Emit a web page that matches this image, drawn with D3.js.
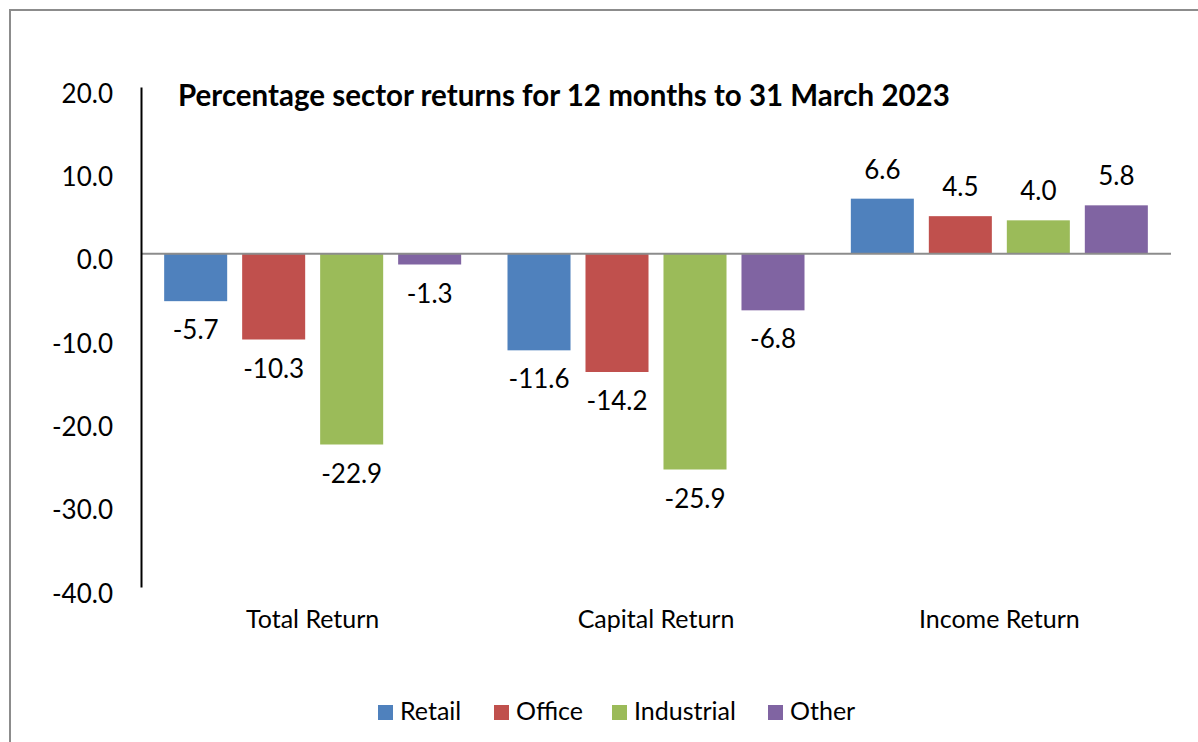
<!DOCTYPE html>
<html>
<head>
<meta charset="utf-8">
<script src="https://d3js.org/d3.v7.min.js"></script>
<style>
body { margin: 0; background: #fff; }
text { font-family: Lato, "Open Sans", sans-serif; fill: #000; }
</style>
</head>
<body>
<svg id="chart" width="1198" height="742"></svg>
<script>
var categories = ["Total Return", "Capital Return", "Income Return"];
var sectors = ["Retail", "Office", "Industrial", "Other"];
var colors = ["#4f81bd", "#c0504d", "#9bbb59", "#8064a2"];
var retail = [-5.7, -11.6, 6.6];
var office = [-10.3, -14.2, 4.5];
var industrial = [-22.9, -25.9, 4.0];
var other = [-1.3, -6.8, 5.8];
var yTicks = [20, 10, 0, -10, -20, -30, -40];

var seriesValues = [retail, office, industrial, other];
var rows = [];
categories.forEach(function(c, i) {
    sectors.forEach(function(s, j) {
        rows.push({cat: c, sector: s, value: seriesValues[j][i]});
    });
});

var svg = d3.select("#chart");

// outer frame (right/bottom edges fall outside the picture)
svg.append("rect")
    .attr("x", 10).attr("y", 10)
    .attr("width", 1300).attr("height", 900)
    .attr("fill", "none")
    .attr("stroke", "#8c8c8c")
    .attr("stroke-width", 2);

var y = d3.scaleLinear().domain([-40, 20]).range([587, 87]);
var x0 = d3.scaleBand().domain(categories).range([141, 1171]).padding(0);
var x1 = d3.scaleBand().domain(sectors).range([0, x0.bandwidth()])
    .paddingInner(0.192).paddingOuter(0.297);
var color = d3.scaleOrdinal().domain(sectors).range(colors);

// bars
svg.append("g").selectAll("rect")
    .data(rows)
    .join("rect")
    .attr("x", function(d) { return x0(d.cat) + x1(d.sector); })
    .attr("width", x1.bandwidth())
    .attr("y", function(d) { return y(Math.max(0, d.value)); })
    .attr("height", function(d) { return Math.abs(y(d.value) - y(0)); })
    .attr("fill", function(d) { return color(d.sector); });

// zero line
svg.append("line")
    .attr("x1", 141).attr("x2", 1171)
    .attr("y1", y(0)).attr("y2", y(0))
    .attr("stroke", "#8c8c8c")
    .attr("stroke-width", 2);

// y axis
var yAxis = svg.append("g")
    .attr("transform", "translate(141,0)")
    .call(d3.axisLeft(y).tickValues(yTicks).tickSize(0).tickPadding(28)
        .tickFormat(function(d) { return d.toFixed(1); }));
yAxis.select(".domain").attr("stroke", "#000").attr("stroke-width", 2);
yAxis.selectAll("text")
    .attr("dy", null)
    .attr("y", 15)
    .style("font-family", "Lato, sans-serif")
    .style("font-size", "26px")
    .attr("fill", "#000");

// data labels
svg.append("g").selectAll("text")
    .data(rows)
    .join("text")
    .attr("x", function(d) { return x0(d.cat) + x1(d.sector) + x1.bandwidth() / 2; })
    .attr("y", function(d) { return d.value >= 0 ? y(d.value) - 20 : y(d.value) + 38; })
    .attr("text-anchor", "middle")
    .style("font-size", "26px")
    .text(function(d) { return d.value.toFixed(1); });

// category labels
svg.append("g").selectAll("text")
    .data(categories)
    .join("text")
    .attr("x", function(d) { return x0(d) + x0.bandwidth() / 2; })
    .attr("y", 628)
    .attr("text-anchor", "middle")
    .style("font-size", "25px")
    .text(function(d) { return d; });

// title
svg.append("text")
    .attr("x", 178).attr("y", 106)
    .style("font-size", "29.5px")
    .style("font-weight", "bold")
    .text("Percentage sector returns for 12 months to 31 March 2023");

// legend
var legendX = [378, 494, 612, 768];
var legend = svg.append("g").selectAll("g")
    .data(sectors)
    .join("g")
    .attr("transform", function(d, i) { return "translate(" + legendX[i] + ",705)"; });
legend.append("rect")
    .attr("width", 15).attr("height", 15)
    .attr("fill", function(d) { return color(d); });
legend.append("text")
    .attr("x", 22).attr("y", 15)
    .style("font-size", "25px")
    .text(function(d) { return d; });
</script>
</body>
</html>
